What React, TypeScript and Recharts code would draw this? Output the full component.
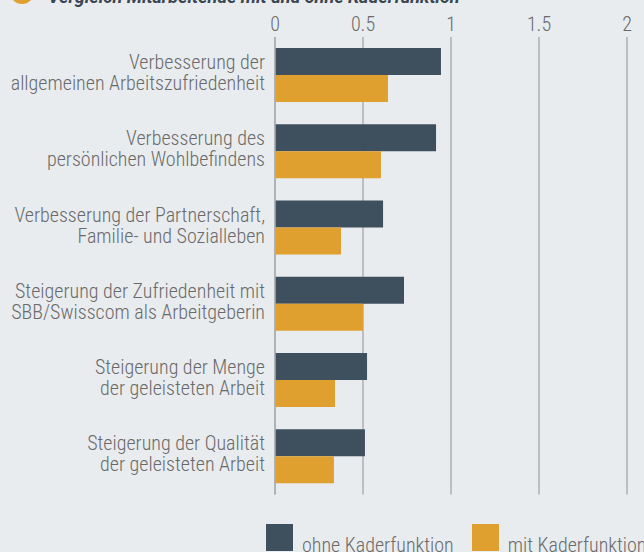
import React from "react";
import { BarChart, Bar, XAxis, YAxis, CartesianGrid } from "recharts";

const categories = [
  "Verbesserung der\nallgemeinen Arbeitszufriedenheit",
  "Verbesserung des\npersönlichen Wohlbefindens",
  "Verbesserung der Partnerschaft,\nFamilie- und Sozialleben",
  "Steigerung der Zufriedenheit mit\nSBB/Swisscom als Arbeitgeberin",
  "Steigerung der Menge\nder geleisteten Arbeit",
  "Steigerung der Qualität\nder geleisteten Arbeit",
];
const ohneKader = [0.943, 0.915, 0.614, 0.733, 0.523, 0.511];
const mitKader = [0.642, 0.602, 0.375, 0.5, 0.341, 0.335];
const xTicks = [0, 0.5, 1, 1.5, 2];
const seriesNames = ["ohne Kaderfunktion", "mit Kaderfunktion"];
const title = "Vergleich Mitarbeitende mit und ohne Kaderfunktion";

const data = categories.map((c, i) => ({ name: c, ohne: ohneKader[i], mit: mitKader[i] }));

const FONT = "'Roboto Condensed', 'Liberation Sans Narrow', 'DejaVu Sans Condensed', Roboto, sans-serif";
const DARK = "#3E4F5E";
const ORANGE = "#E0A030";
const TEXT = "#6a6a6a";
const GRID = "#acafb2";
const FS = 20;
const FW = 300;

const YTick = (props: any) => {
  const { x, y, payload } = props;
  const lines = String(payload.value).split("\n");
  return (
    <text x={x} y={y} textAnchor="end" fill={TEXT} fontSize={FS} fontWeight={FW} fontFamily={FONT}>
      {lines.map((l, i) => (
        <tspan key={i} x={x} dy={i === 0 ? -6 : 21}>
          {l}
        </tspan>
      ))}
    </text>
  );
};

export default function App() {
  return (
    <div style={{ position: "fixed", left: 0, top: 0, width: 644, height: 552, background: "#E9ECEF", overflow: "hidden" }}>
      <svg width={644} height={20} style={{ position: "absolute", left: 0, top: 0 }}>
        <circle cx={22} cy={-8} r={12} fill={ORANGE} />
        <text x={48} y={3} fontFamily="Roboto, sans-serif" fontSize={18} fontWeight="bold" fontStyle="italic" fill="#3a4652">
          {title}
        </text>
      </svg>
      <BarChart
        width={644}
        height={552}
        data={data}
        layout="vertical"
        margin={{ top: 7, right: 17, bottom: 57.5, left: 0 }}
        barGap={0}
        style={{ position: "absolute", left: 0, top: 0 }}
      >
        <CartesianGrid horizontal={false} stroke={GRID} strokeWidth={1.5} />
        <XAxis
          type="number"
          orientation="top"
          domain={[0, 2]}
          ticks={xTicks}
          axisLine={false}
          tickLine={false}
          tickSize={0}
          tickMargin={6}
          height={30}
          tick={{ fill: TEXT, fontSize: FS, fontWeight: FW, fontFamily: FONT }}
        />
        <YAxis
          type="category"
          dataKey="name"
          width={275}
          axisLine={{ stroke: GRID, strokeWidth: 1.5 }}
          tickLine={false}
          tickSize={0}
          tickMargin={10}
          tick={<YTick />}
          interval={0}
        />
        <Bar dataKey="ohne" name={seriesNames[0]} fill={DARK} barSize={27} isAnimationActive={false} />
        <Bar dataKey="mit" name={seriesNames[1]} fill={ORANGE} barSize={27} isAnimationActive={false} />
      </BarChart>
      <div
        style={{
          position: "absolute",
          left: 266,
          top: 524,
          display: "flex",
          alignItems: "flex-end",
          fontFamily: FONT,
          fontSize: FS,
          fontWeight: FW,
          color: TEXT,
          whiteSpace: "nowrap",
        }}
      >
        <div style={{ width: 27, height: 27, background: DARK }} />
        <span style={{ marginLeft: 9, lineHeight: "20px", marginBottom: -4 }}>{seriesNames[0]}</span>
        <div style={{ width: 27, height: 27, background: ORANGE, marginLeft: 18 }} />
        <span style={{ marginLeft: 9, lineHeight: "20px", marginBottom: -4 }}>{seriesNames[1]}</span>
      </div>
    </div>
  );
}
